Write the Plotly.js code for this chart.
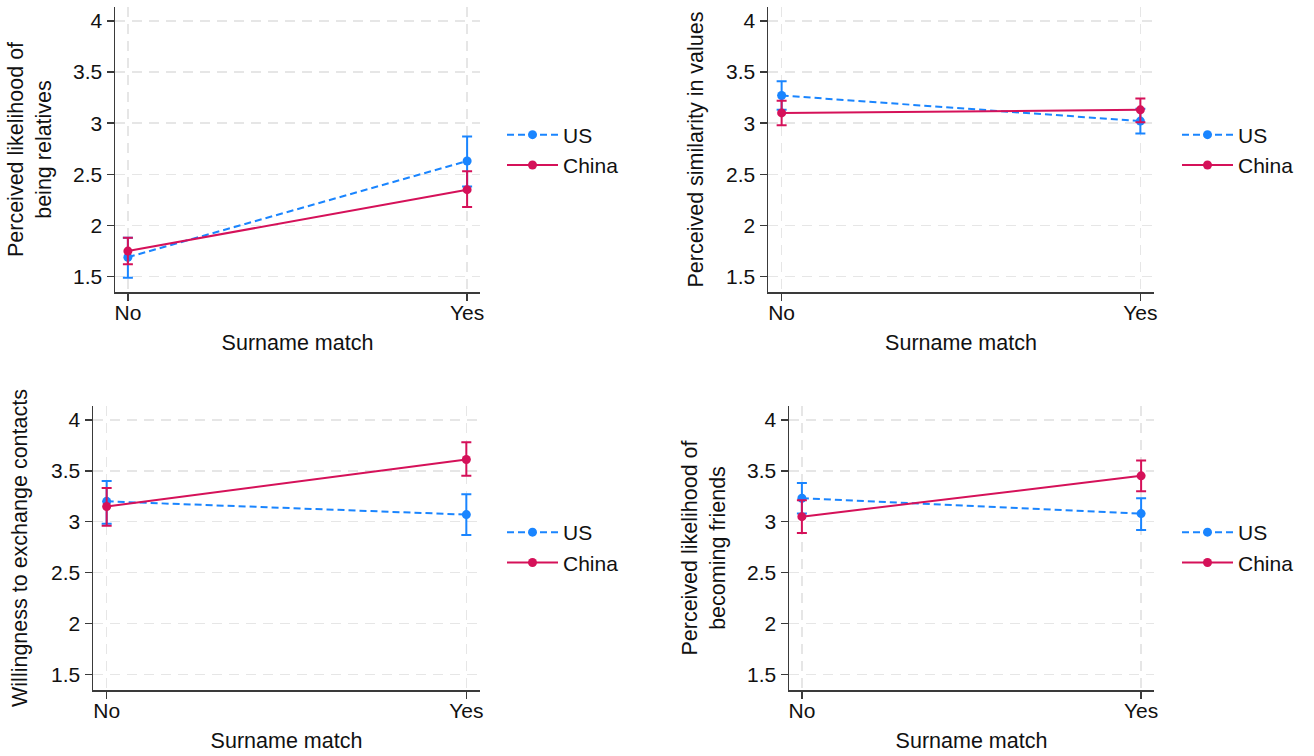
<!DOCTYPE html>
<html>
<head>
<meta charset="utf-8">
<script src="https://cdn.plot.ly/plotly-3.0.1.min.js"></script>
<style>html,body{margin:0;padding:0;background:#fff;}#chart{width:1314px;height:756px;}</style>
</head>
<body>
<div id="chart"></div>
<script>
// ---- data ----
const categories = ["No", "Yes"];
const seriesNames = ["US", "China"];
const yTitles = [
  "Perceived likelihood of<br>being relatives",
  "Perceived similarity in values",
  "Willingness to exchange contacts",
  "Perceived likelihood of<br>becoming friends"
];
const xTitle = "Surname match";
const yTickVals = [1.5, 2, 2.5, 3, 3.5, 4];

// Panel 1: relatives
const relUS = [1.69, 2.63], relUSlo = [1.49, 2.38], relUShi = [1.88, 2.87];
const relCN = [1.75, 2.35], relCNlo = [1.62, 2.18], relCNhi = [1.88, 2.53];
// Panel 2: values
const valUS = [3.27, 3.02], valUSlo = [3.13, 2.90], valUShi = [3.41, 3.14];
const valCN = [3.10, 3.13], valCNlo = [2.98, 3.01], valCNhi = [3.22, 3.24];
// Panel 3: exchange contacts
const conUS = [3.20, 3.07], conUSlo = [2.98, 2.87], conUShi = [3.40, 3.27];
const conCN = [3.15, 3.61], conCNlo = [2.96, 3.45], conCNhi = [3.33, 3.78];
// Panel 4: friends
const friUS = [3.23, 3.08], friUSlo = [3.08, 2.92], friUShi = [3.38, 3.23];
const friCN = [3.05, 3.45], friCNlo = [2.89, 3.30], friCNhi = [3.21, 3.60];

const panels = [
  {us: relUS, usLo: relUSlo, usHi: relUShi, cn: relCN, cnLo: relCNlo, cnHi: relCNhi},
  {us: valUS, usLo: valUSlo, usHi: valUShi, cn: valCN, cnLo: valCNlo, cnHi: valCNhi},
  {us: conUS, usLo: conUSlo, usHi: conUShi, cn: conCN, cnLo: conCNlo, cnHi: conCNhi},
  {us: friUS, usLo: friUSlo, usHi: friUShi, cn: friCN, cnLo: friCNlo, cnHi: friCNhi}
];

// ---- styling / layout ----
const W = 1314, H = 756;
const FONT = "Liberation Sans, Arial, Helvetica, sans-serif";
const BLUE = "rgb(26,133,255)";
const RED = "rgb(213,17,89)";
const AXC = "#3a3a3a";
const GRID = "#e6e6e6";

// pixel boxes of plot areas [left, right, top, bottom]
const boxes = [
  [115, 480, 7, 292],
  [768, 1154, 7, 292],
  [93, 480, 406, 690],
  [789, 1154, 406, 690]
];
const legendPos = [[502, 150], [1177, 150], [502, 547.5], [1177, 547.5]];
const standoffs = [15, 16, 17, 15];

const traces = [];
const layout = {
  width: W, height: H,
  margin: {l: 0, r: 0, t: 0, b: 0},
  paper_bgcolor: "#fff", plot_bgcolor: "#fff",
  font: {family: FONT, size: 21, color: "#111"},
  showlegend: true
};

function diff(a, b) { return a.map((v, i) => v - b[i]); }

panels.forEach((p, k) => {
  const n = k + 1;
  const xa = "x" + (n === 1 ? "" : n), ya = "y" + (n === 1 ? "" : n);
  const lg = "legend" + (n === 1 ? "" : n);
  const series = [
    {name: seriesNames[0], y: p.us, lo: p.usLo, hi: p.usHi, color: BLUE, dash: "7px,4px"},
    {name: seriesNames[1], y: p.cn, lo: p.cnLo, hi: p.cnHi, color: RED, dash: "solid"}
  ];
  series.forEach(s => {
    traces.push({
      type: "scatter", mode: "lines+markers",
      x: categories, y: s.y, name: s.name,
      xaxis: xa, yaxis: ya, legend: lg,
      line: {color: s.color, width: 2, dash: s.dash},
      marker: {color: s.color, size: 9},
      error_y: {type: "data", symmetric: false,
        array: diff(s.hi, s.y), arrayminus: diff(s.y, s.lo),
        color: s.color, thickness: 2, width: 5},
      hoverinfo: "skip"
    });
  });
  const b = boxes[k];
  const axBase = {
    showline: true, linecolor: AXC, linewidth: 1.5,
    ticks: "outside", ticklen: 7, tickwidth: 1.5, tickcolor: AXC,
    showgrid: true, gridcolor: GRID, gridwidth: 1.5, griddash: "10px,7px",
    zeroline: false, tickfont: {family: FONT, size: 21, color: "#111"},
    fixedrange: true
  };
  layout["xaxis" + (n === 1 ? "" : n)] = Object.assign({}, axBase, {
    type: "category", anchor: ya,
    domain: [b[0] / W, b[1] / W],
    range: [-0.038, 1.038],
    ticklabelstandoff: -6,
    title: {text: xTitle, font: {family: FONT, size: 21.5, color: "#111"}, standoff: 12}
  });
  layout["yaxis" + (n === 1 ? "" : n)] = Object.assign({}, axBase, {
    anchor: xa,
    domain: [1 - b[3] / H, 1 - b[2] / H],
    range: [1.35, 4.135],
    tickvals: yTickVals,
    ticktext: yTickVals.map(v => String(v)),
    title: {text: yTitles[k], font: {family: FONT, size: 21.5, color: "#111"}, standoff: standoffs[k]}
  });
  const lp = legendPos[k];
  layout[lg] = {
    x: lp[0] / W, y: 1 - lp[1] / H, xanchor: "left", yanchor: "middle",
    bgcolor: "rgba(0,0,0,0)", borderwidth: 0,
    font: {family: FONT, size: 21, color: "#111"},
    itemwidth: 51, tracegroupgap: 0
  };
});

Plotly.newPlot("chart", traces, layout, {displayModeBar: false, staticPlot: true});
</script>
</body>
</html>
